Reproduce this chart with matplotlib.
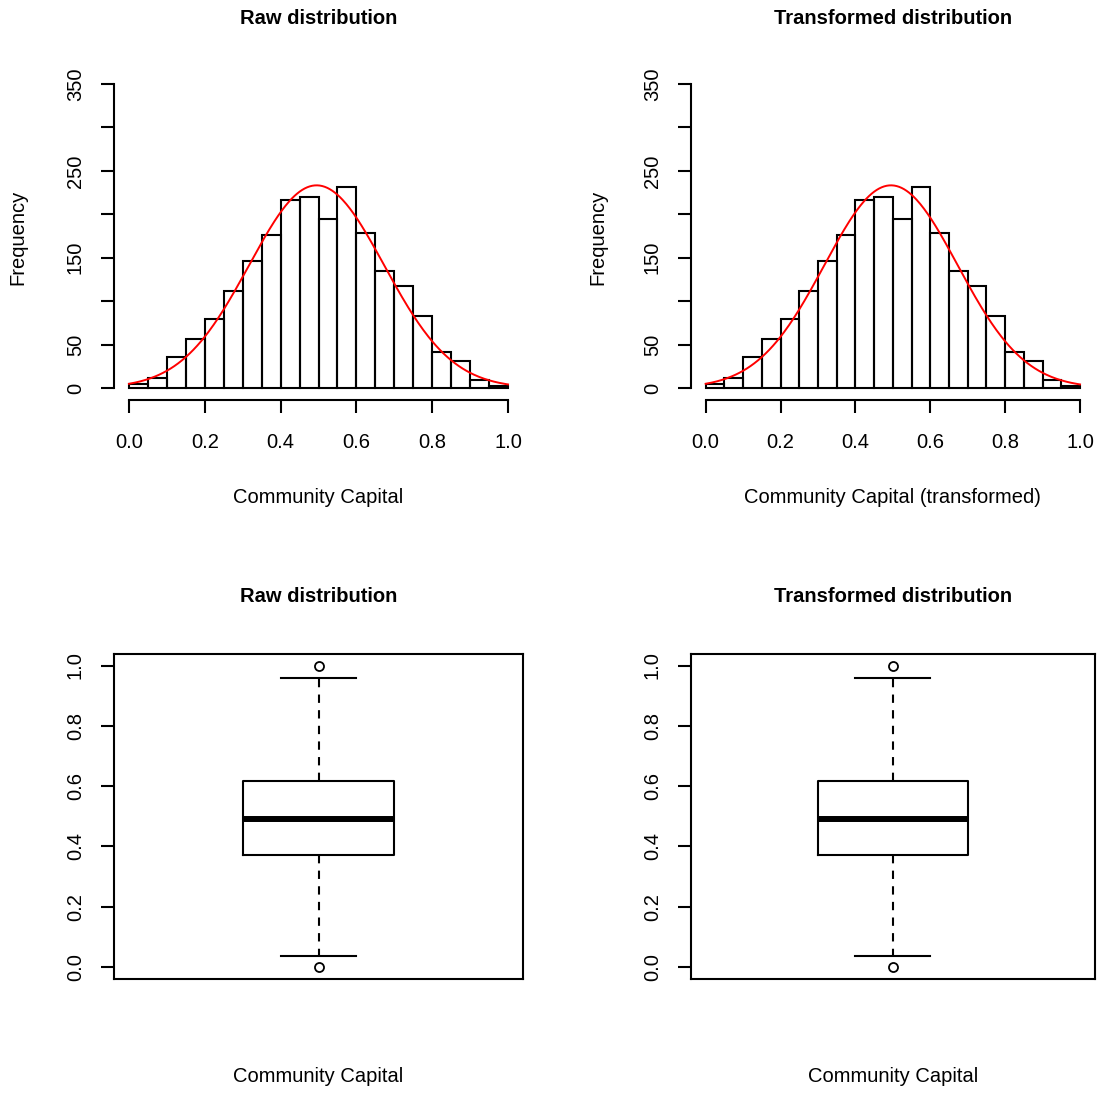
import numpy as np
import matplotlib
matplotlib.use("Agg")
import matplotlib.pyplot as plt

plt.rcParams['font.family'] = ['Liberation Sans', 'DejaVu Sans']

# ---------------- data ----------------
bin_edges = [0.00, 0.05, 0.10, 0.15, 0.20, 0.25, 0.30, 0.35, 0.40, 0.45, 0.50,
             0.55, 0.60, 0.65, 0.70, 0.75, 0.80, 0.85, 0.90, 0.95, 1.00]
raw_counts = [5, 12, 36, 57, 80, 112, 146, 176, 216, 220, 195,
              231, 178, 135, 117, 83, 41, 31, 9, 2]
trans_counts = [5, 12, 36, 57, 80, 112, 146, 176, 216, 220, 195,
                231, 178, 135, 117, 83, 41, 31, 9, 2]

# fitted normal curve parameters
fit_mean = 0.495
fit_sd = 0.178
n_obs = 2082
bin_width = 0.05

hist_yticks = [0, 50, 100, 150, 200, 250, 300, 350]
hist_yticklabels = ["0", "50", "", "150", "", "250", "", "350"]
hist_xticks = [0.0, 0.2, 0.4, 0.6, 0.8, 1.0]
hist_xticklabels = ["0.0", "0.2", "0.4", "0.6", "0.8", "1.0"]

box_yticks = [0.0, 0.2, 0.4, 0.6, 0.8, 1.0]
box_yticklabels = ["0.0", "0.2", "0.4", "0.6", "0.8", "1.0"]

raw_box = dict(whislo=0.0375, q1=0.373, med=0.492, q3=0.618, whishi=0.958, fliers=[0.0, 1.0])
trans_box = dict(whislo=0.0375, q1=0.373, med=0.492, q3=0.618, whishi=0.958, fliers=[0.0, 1.0])

titles = ["Raw distribution", "Transformed distribution"]
hist_xlabels = ["Community Capital", "Community Capital (transformed)"]
box_xlabel = "Community Capital"
ylabel = "Frequency"

# ---------------- layout ----------------
W, H = 1109, 1093
DPI = 100
fig = plt.figure(figsize=(W / DPI, H / DPI), dpi=DPI)
fig.patch.set_facecolor("white")


def rect(left, top, right, bottom):
    return [left / W, 1 - bottom / H, (right - left) / W, (bottom - top) / H]


FS = 14.5
LW = 1.5
TICKLEN = 9.5

cols = [(113.8, 523.2), (690.7, 1095.0)]
ylabel_x = [18, 598]


def style_ticks(ax):
    ax.tick_params(axis='both', direction='out', length=TICKLEN, width=LW,
                   labelsize=FS, colors='black')
    ax.tick_params(axis='x', pad=14.3)
    ax.tick_params(axis='y', pad=11.3)
    for lab in ax.get_yticklabels():
        lab.set_rotation(90)
        lab.set_va('center')
        lab.set_ha('right')


for i in range(2):
    left, right = cols[i]
    counts = raw_counts if i == 0 else trans_counts

    # ---------- histogram ----------
    ax = fig.add_axes(rect(left, 71.8, right, 400.2))
    ax.set_xlim(-0.04, 1.04)
    ax.set_ylim(-14, 364)
    ax.bar(bin_edges[:-1], counts, width=bin_width, align='edge',
           fill=False, edgecolor='black', linewidth=LW)
    xs = np.linspace(bin_edges[0], bin_edges[-1], 301)
    ys = n_obs * bin_width * np.exp(-0.5 * ((xs - fit_mean) / fit_sd) ** 2) / (fit_sd * np.sqrt(2 * np.pi))
    ax.plot(xs, ys, color='#FF0000', linewidth=1.4)

    for s in ['top', 'right']:
        ax.spines[s].set_visible(False)
    ax.spines['left'].set_bounds(0, 350)
    ax.spines['bottom'].set_bounds(0, 1)
    ax.spines['left'].set_linewidth(LW)
    ax.spines['bottom'].set_linewidth(LW)
    ax.set_yticks(hist_yticks)
    ax.set_yticklabels(hist_yticklabels)
    ax.set_xticks(hist_xticks)
    ax.set_xticklabels(hist_xticklabels)
    style_ticks(ax)

    aw = right - left
    ah = 400.2 - 71.8
    ax.set_title(titles[i], fontsize=FS, fontweight='bold', y=(400.2 - 18) / ah,
                 va='center', pad=0)
    ax.set_xlabel(hist_xlabels[i], fontsize=FS, va='center')
    ax.xaxis.set_label_coords(0.5, (400.2 - 497) / ah)
    ax.set_ylabel(ylabel, fontsize=FS, va='center')
    ax.yaxis.set_label_coords((ylabel_x[i] - left) / aw, (400.2 - 237) / ah)

    # ---------- boxplot ----------
    bx = fig.add_axes(rect(left, 653.5, right, 979.0))
    st = dict(raw_box if i == 0 else trans_box)
    st['label'] = ''
    bx.bxp([st], positions=[1], widths=0.4, showfliers=True,
           boxprops=dict(linewidth=LW, color='black'),
           medianprops=dict(linewidth=4.3, color='black', solid_capstyle='butt'),
           whiskerprops=dict(linewidth=LW, color='black', linestyle=(0, (4, 3.5))),
           capprops=dict(linewidth=LW, color='black'),
           flierprops=dict(marker='o', markerfacecolor='none', markeredgecolor='black',
                           markersize=6.5, markeredgewidth=1.3))
    bx.set_xlim(0.46, 1.54)
    bx.set_ylim(-0.04, 1.04)
    for s in bx.spines.values():
        s.set_linewidth(LW)
    bx.set_xticks([])
    bx.set_yticks(box_yticks)
    bx.set_yticklabels(box_yticklabels)
    style_ticks(bx)
    bh = 979.0 - 653.5
    bx.set_title(titles[i], fontsize=FS, fontweight='bold', y=(979.0 - 597) / bh,
                 va='center', pad=0)
    bx.set_xlabel(box_xlabel, fontsize=FS, va='center')
    bx.xaxis.set_label_coords(0.5, (979.0 - 1077) / bh)

fig.savefig("out.png", dpi=DPI, facecolor='white')
